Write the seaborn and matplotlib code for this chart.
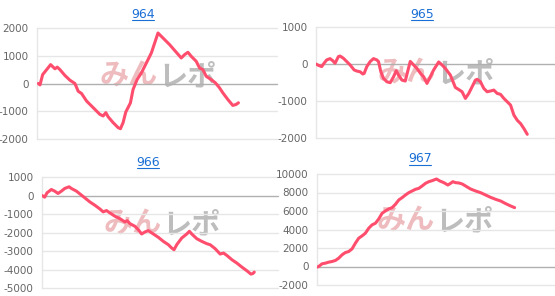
import matplotlib
matplotlib.use("Agg")
import matplotlib.pyplot as plt
import seaborn as sns
import pandas as pd
from matplotlib.lines import Line2D

# ---------------- data (x = games, y = difference of medals) ----------------
titles = ["964", "965", "966", "967"]

x964 = [0, 50, 130, 250, 370, 500, 570, 650, 800, 950, 1100, 1200, 1300, 1450, 1650, 1850,
        1950, 2030, 2100, 2250, 2400, 2470, 2550, 2630, 2770, 2850, 2970, 3100, 3250, 3400,
        3500, 3600, 3750, 3950, 4150, 4300, 4400, 4500, 4600, 4750, 4850, 4950, 5050, 5200,
        5330, 5450, 5550, 5700, 5850, 5950, 6020]
y964 = [0, -50, 320, 500, 680, 530, 590, 500, 290, 120, 0, -280, -360, -630, -870, -1110,
        -1170, -1050, -1200, -1410, -1590, -1630, -1410, -1030, -700, -215, 140, 380, 740, 1100,
        1460, 1820, 1640, 1400, 1125, 920, 1040, 1125, 980, 800, 560, 500, 260, 140,
        20, -155, -335, -575, -790, -755, -695]

x965 = [0, 70, 170, 240, 320, 420, 500, 570, 670, 720, 820, 920, 1020, 1140, 1220, 1320,
        1400, 1440, 1520, 1620, 1720, 1820, 1870, 1940, 2020, 2120, 2220, 2320, 2400, 2470,
        2570, 2670, 2740, 2820, 2920, 3020, 3140, 3220, 3320, 3420, 3520, 3670, 3770, 3870,
        4020, 4170, 4270, 4370, 4470, 4570, 4670, 4770, 4820, 4920, 5020, 5120, 5220, 5320,
        5420, 5520, 5620, 5720, 5820, 5920, 6020, 6120, 6220, 6320]
y965 = [0, -35, -70, 20, 110, 145, 90, 20, 200, 215, 155, 65, -25, -160, -190, -210,
        -270, -255, -70, 65, 145, 110, 65, -210, -390, -480, -505, -345, -180, -300,
        -435, -460, -210, 70, -25, -120, -270, -345, -525, -345, -160, 55, -25, -120,
        -300, -635, -690, -750, -930, -795, -615, -435, -415, -480, -660, -750, -730, -705,
        -795, -820, -930, -1020, -1110, -1380, -1520, -1610, -1745, -1900]

x966 = [0, 80, 150, 280, 380, 480, 580, 680, 810, 880, 1030, 1180, 1280, 1430, 1580, 1730,
        1830, 1930, 2030, 2180, 2330, 2480, 2550, 2630, 2780, 2880, 2980, 3080, 3180, 3330,
        3480, 3630, 3780, 3880, 3950, 4030, 4180, 4330, 4410, 4480, 4630, 4780, 4930, 5030,
        5180, 5330, 5430, 5530, 5680, 5830, 5980, 6130, 6250, 6310, 6350]
y966 = [0, -90, 145, 325, 235, 110, 235, 380, 470, 380, 235, 20, -125, -345, -525, -725,
        -885, -815, -940, -1120, -1250, -1430, -1360, -1520, -1665, -1845, -2080, -1970, -1900, -2080,
        -2260, -2480, -2660, -2840, -2930, -2660, -2300, -2080, -1935, -2080, -2335, -2480, -2605, -2660,
        -2875, -3165, -3110, -3240, -3470, -3655, -3870, -4070, -4250, -4215, -4140]

x967 = [0, 50, 150, 250, 350, 450, 550, 650, 750, 850, 950, 1050, 1150, 1250, 1350, 1450,
        1550, 1650, 1750, 1850, 1950, 2050, 2150, 2250, 2350, 2450, 2550, 2650, 2750, 2850,
        2950, 3050, 3150, 3250, 3350, 3450, 3580, 3680, 3800, 3920, 4000, 4070, 4150, 4250,
        4350, 4450, 4600, 4750, 4900, 5050, 5200, 5350, 5500, 5650, 5800, 5920]
y967 = [-70, 0, 290, 360, 470, 540, 650, 900, 1260, 1510, 1620, 1905, 2520, 3060, 3310, 3600,
        4140, 4500, 4675, 5145, 5755, 6005, 6220, 6365, 6725, 7195, 7445, 7730, 7985, 8165,
        8345, 8450, 8705, 8990, 9170, 9280, 9460, 9245, 9065, 8810, 8990, 9170, 9065, 9030,
        8920, 8705, 8380, 8165, 7985, 7730, 7480, 7265, 7085, 6800, 6545, 6365]

series = [(x964, y964), (x965, y965), (x966, y966), (x967, y967)]
ylims = [(-2000, 2000), (-2000, 1000), (-5000, 1000), (-2000, 10000)]
yticks = [[-2000, -1000, 0, 1000, 2000],
          [-2000, -1000, 0, 1000],
          [-5000, -4000, -3000, -2000, -1000, 0, 1000],
          [-2000, 0, 2000, 4000, 6000, 8000, 10000]]
xlims = [(-40, 7180), (0, 7150), (0, 7060), (0, 7130)]

# ---------------- layout (pixels) ----------------
W, H = 555, 296
boxes = [(37, 28, 277, 139), (316, 27, 555, 138), (42, 177, 278, 288), (317, 174, 555, 285)]
title_pos = [(143, 14), (422, 14), (148, 162), (420, 159)]
wm_pos = [(158, 76), (436, 73), (162, 224), (435, 221)]

sns.set_style("white")
plt.rcParams["font.family"] = ["DejaVu Sans"]

fig = plt.figure(figsize=(W / 100, H / 100), dpi=100)

line_color = "#ff4d6d"
grid_color = "#e6e6e6"
zero_color = "#b0b0b0"
tick_color = "#666666"
title_color = "#1a6fd6"

for i in range(4):
    l, t, r, b = boxes[i]
    ax = fig.add_axes([l / W, 1 - b / H, (r - l) / W, (b - t) / H])
    ax.set_facecolor("none")
    ax.set_zorder(2)
    xs, ys = series[i]
    df = pd.DataFrame({"x": xs, "y": ys})

    for yv in yticks[i]:
        ax.axhline(yv, color=zero_color if yv == 0 else grid_color,
                   lw=1.0, zorder=0, clip_on=False)

    sns.lineplot(data=df, x="x", y="y", ax=ax, color=line_color, lw=2.2,
                 sort=False, zorder=3)

    ax.set_xlim(*xlims[i])
    ax.set_ylim(*ylims[i])
    ax.set_yticks(yticks[i])
    ax.set_yticklabels([str(v) for v in yticks[i]])
    ax.set_xticks([])
    ax.set_xlabel("")
    ax.set_ylabel("")
    ax.tick_params(axis="y", labelsize=7.5, labelcolor=tick_color, length=4,
                   color=grid_color, pad=2)
    for s in ["top", "right", "bottom"]:
        ax.spines[s].set_visible(False)
    ax.spines["left"].set_color(grid_color)
    ax.spines["left"].set_linewidth(1.0)

    # title with underline
    tx, ty = title_pos[i]
    fig.text(tx / W, 1 - ty / H, titles[i], ha="center", va="center",
             fontsize=9, color=title_color)
    fig.add_artist(Line2D([(tx - 11) / W, (tx + 11) / W],
                          [1 - (ty + 5.5) / H, 1 - (ty + 5.5) / H],
                          color=title_color, lw=0.8))

    # watermark (behind the data)
    wx, wy = wm_pos[i]
    fig.text(wx / W, 1 - wy / H, "みん", ha="right", va="center",
             fontsize=21, fontweight="bold", color="#eebcbe",
             family=["Noto Sans CJK JP", "DejaVu Sans"], zorder=1)
    fig.text(wx / W, 1 - wy / H, "レポ", ha="left", va="center",
             fontsize=21, fontweight="bold", color="#bdbdbd",
             family=["Noto Sans CJK JP", "DejaVu Sans"], zorder=1)

fig.savefig("out.png", dpi=100)
